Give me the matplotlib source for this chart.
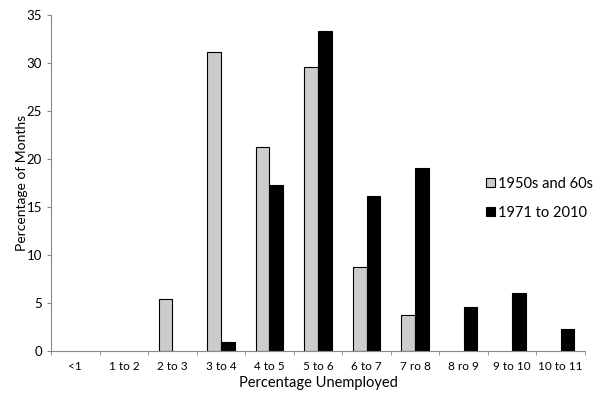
import numpy as np
import matplotlib.pyplot as plt

plt.rcParams["font.family"] = ["Lato", "DejaVu Sans"]

categories = ["<1", "1 to 2", "2 to 3", "3 to 4", "4 to 5", "5 to 6",
              "6 to 7", "7 ro 8", "8 ro 9", "9 to 10", "10 to 11"]
pct_1950s_60s = [0, 0, 5.4, 31.2, 21.3, 29.6, 8.8, 3.8, 0, 0, 0]
pct_1971_2010 = [0, 0, 0, 1.0, 17.3, 33.3, 16.2, 19.1, 4.6, 6.1, 2.3]

fig = plt.figure(figsize=(6, 3.99), dpi=100)
ax = fig.add_axes([0.085, 0.12, 0.89, 0.842])

x = np.arange(len(categories))
w = 0.28
for xi, v in zip(x, pct_1950s_60s):
    if v > 0:
        ax.bar(xi - w / 2, v, w, color="#cccccc", edgecolor="black", linewidth=0.8)
for xi, v in zip(x, pct_1971_2010):
    if v > 0:
        ax.bar(xi + w / 2, v, w, color="black", edgecolor="black", linewidth=0.8)

# legend handles
ax.bar(0, 0, 0, color="#cccccc", edgecolor="black", linewidth=0.8, label="1950s and 60s")
ax.bar(0, 0, 0, color="black", edgecolor="black", linewidth=0.8, label="1971 to 2010")

ax.set_xlim(-0.5, len(categories) - 0.5)
ax.set_ylim(0, 35)
ax.set_yticks(range(0, 36, 5))
ax.set_xticks(x)
ax.set_xticklabels(categories, fontsize=8.5)
ax.set_xticks(np.arange(-0.5, len(categories), 1), minor=True)
ax.tick_params(axis="x", which="major", length=0, pad=7)
ax.tick_params(axis="x", which="minor", length=3, color="#888888")
ax.tick_params(axis="y", labelsize=9.5, length=3, color="#888888")

for s in ["top", "right"]:
    ax.spines[s].set_visible(False)
for s in ["left", "bottom"]:
    ax.spines[s].set_color("#888888")
    ax.spines[s].set_linewidth(0.8)

ax.set_xlabel("Percentage Unemployed", fontsize=10.5, labelpad=3)
ax.set_ylabel("Percentage of Months", fontsize=10, labelpad=-1)

ax.legend(loc="center left", bbox_to_anchor=(0.79, 0.455), frameon=False,
          fontsize=10.5, handlelength=0.6, handleheight=0.6, handletextpad=0.2,
          labelspacing=1.0)

fig.savefig("out.png", dpi=100)
